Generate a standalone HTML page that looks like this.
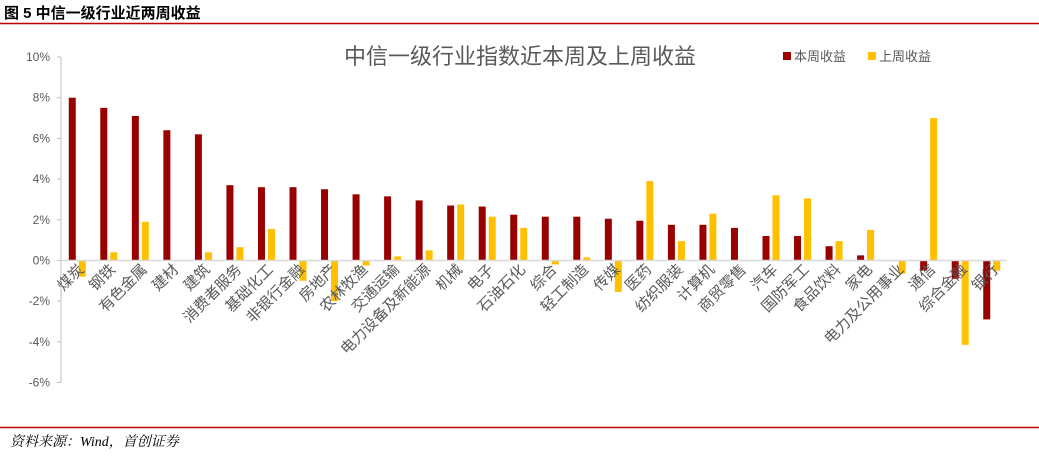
<!DOCTYPE html>
<html><head><meta charset="utf-8"><style>
body{margin:0;width:1039px;height:455px;background:#fff;overflow:hidden;font-family:"Liberation Sans","Noto Sans CJK SC",sans-serif;}
</style></head><body>
<svg width="1039" height="455" xmlns="http://www.w3.org/2000/svg">
<text x="4" y="18" font-size="15" font-weight="bold" fill="#000" font-family="Liberation Sans,Noto Sans CJK SC,sans-serif">图 5  中信一级行业近两周收益</text>
<line x1="0" y1="23.5" x2="1039" y2="23.5" stroke="#c00000" stroke-width="1.5"/>
<line x1="0" y1="427.5" x2="1039" y2="427.5" stroke="#c00000" stroke-width="1.5"/>
<text x="10" y="446" font-size="14" font-style="italic" fill="#000" font-family="Liberation Serif,Noto Serif CJK SC,serif">资料来源：Wind，首创证券</text>
<text x="520" y="64" text-anchor="middle" font-size="22" fill="#595959" font-family="Liberation Sans,Noto Sans CJK SC,sans-serif">中信一级行业指数近本周及上周收益</text>
<rect x="783" y="52" width="8" height="8" fill="#990000"/>
<text x="794" y="61" font-size="13" fill="#595959">本周收益</text>
<rect x="868" y="52" width="8" height="8" fill="#ffc000"/>
<text x="879" y="61" font-size="13" fill="#595959">上周收益</text>
<g id="plot"></g>
</svg>
<script>
const categories=["煤炭","钢铁","有色金属","建材","建筑","消费者服务","基础化工","非银行金融","房地产","农林牧渔","交通运输","电力设备及新能源","机械","电子","石油石化","综合","轻工制造","传媒","医药","纺织服装","计算机","商贸零售","汽车","国防军工","食品饮料","家电","电力及公用事业","通信","综合金融","银行"];
const thisWeek=[8.0,7.5,7.1,6.4,6.2,3.7,3.6,3.6,3.5,3.25,3.15,2.95,2.7,2.65,2.25,2.15,2.15,2.05,1.95,1.75,1.75,1.6,1.2,1.2,0.7,0.25,0,-0.5,-0.9,-2.9];
const lastWeek=[-0.8,0.4,1.9,0,0.4,0.65,1.55,-1.0,-2.0,-0.25,0.2,0.5,2.75,2.15,1.6,-0.2,0.15,-1.55,3.9,0.95,2.3,0,3.2,3.05,0.95,1.5,-0.65,7.0,-4.15,-0.5];
const yTicks=[10,8,6,4,2,0,-2,-4,-6];
const NS="http://www.w3.org/2000/svg";
const g=document.getElementById('plot');
const x0=61,x1=1007,yTop=57,yBot=382.5,vMax=10,vMin=-6;
const y=v=>yTop+(vMax-v)/(vMax-vMin)*(yBot-yTop);
const band=(x1-x0)/categories.length;
const cx=i=>x0+band*(i+0.5);
function mk(tag,attrs){const e=document.createElementNS(NS,tag);for(const k in attrs)e.setAttribute(k,attrs[k]);g.appendChild(e);return e;}
let ax=mk('line',{x1:x0,y1:yTop,x2:x0,y2:yBot,stroke:'#bfbfbf'});


yTicks.forEach(t=>{
 const tk=mk('line',{x1:x0-4,y1:y(t),x2:x0,y2:y(t),stroke:'#bfbfbf'});
 
 
 const tx=mk('text',{x:x0-11,y:y(t)+4,'text-anchor':'end','font-size':12,fill:'#595959'});
 tx.textContent=t+'%';
 
 
});
categories.forEach((c,i)=>{
 const a=thisWeek[i],b=lastWeek[i];
 const r=mk('rect',{x:cx(i)-8,y:Math.min(y(a),y(0)),width:7,height:Math.abs(y(a)-y(0)),fill:'#990000'});
 
 
 const s=mk('rect',{x:cx(i)+2,y:Math.min(y(b),y(0)),width:7,height:Math.abs(y(b)-y(0)),fill:'#ffc000'});
 
 
 const lx=cx(i)+8,ly=y(0)+10;
 const t=mk('text',{x:lx,y:ly,'text-anchor':'end','font-size':15,fill:'#595959',transform:`rotate(-45 ${lx} ${ly})`});
 t.textContent=c;
 
 
});
let zl=mk('line',{x1:x0,y1:y(0),x2:x1,y2:y(0),stroke:'#d9d9d9','stroke-width':1.5});


</script>
</body></html>
